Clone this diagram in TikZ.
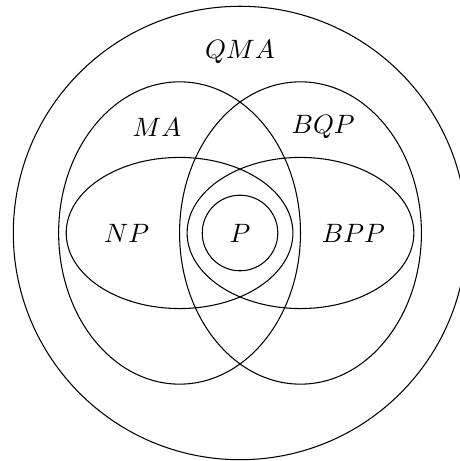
\documentclass[tikz,border=0pt]{standalone}
\begin{document}
\begin{tikzpicture}
\tikzset{region/.style={draw, line width=0.4pt}}
\useasboundingbox (-3.176,-3.017) rectangle (2.898,3.083);
\draw[region] (0,0) circle (3);
\draw[region] (-0.8,0) ellipse (1.6 and 2);
\draw[region] (0.8,0) ellipse (1.6 and 2);
\draw[region] (-0.8,0) ellipse (1.5 and 1);
\draw[region] (0.8,0) ellipse (1.5 and 1);
\draw[region] (0,0) circle (0.5);
\node (qma) at (0,2.4) {$QMA$};
\node (ma) at (-1.1,1.4) {$MA$};
\node (bqp) at (1.1,1.4) {$BQP$};
\node (np) at (-1.5,0) {$NP$};
\node (bpp) at (1.5,0) {$BPP$};
\node (p) at (0,0) {$P$};
\end{tikzpicture}
\end{document}
